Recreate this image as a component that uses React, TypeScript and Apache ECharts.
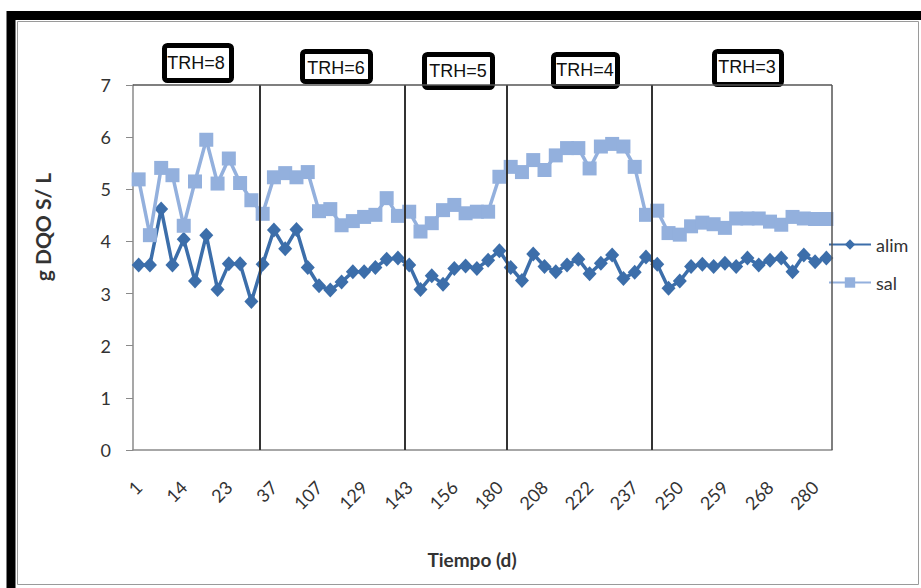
import React, { useEffect, useRef } from "react";
import * as echarts from "echarts";

// Sampling day for each point (only every 4th is labelled on the axis)
const days = [
  1, 4, 7, 10, 14, 16, 18, 21, 23, 25, 30, 35, 37, 99, 101, 104, 107, 112, 119, 124,
  129, 133, 136, 140, 143, 146, 149, 152, 156, 163, 170, 175, 180, 194, 198, 203,
  208, 212, 215, 219, 222, 226, 229, 233, 237, 240, 243, 247, 250, 252, 254, 257,
  259, 261, 264, 266, 268, 271, 273, 276, 280, 282,
];

// Soluble COD of the feed (alim), g/L
const alim = [
  3.55, 3.55, 4.62, 3.55, 4.04, 3.24, 4.12, 3.08, 3.57, 3.57, 2.85, 3.56, 4.22, 3.86,
  4.23, 3.5, 3.15, 3.07, 3.22, 3.42, 3.42, 3.5, 3.66, 3.68, 3.55, 3.08, 3.34, 3.18,
  3.48, 3.53, 3.48, 3.64, 3.82, 3.5, 3.25, 3.76, 3.52, 3.42, 3.55, 3.66, 3.38, 3.58,
  3.74, 3.29, 3.41, 3.7, 3.56, 3.1, 3.24, 3.52, 3.56, 3.52, 3.58, 3.52, 3.68, 3.55,
  3.64, 3.68, 3.42, 3.74, 3.61, 3.68,
];

// Soluble COD of the effluent (sal), g/L
const sal = [
  5.19, 4.12, 5.41, 5.27, 4.3, 5.15, 5.95, 5.11, 5.59, 5.12, 4.79, 4.53, 5.23, 5.31,
  5.23, 5.33, 4.58, 4.62, 4.31, 4.39, 4.47, 4.51, 4.83, 4.49, 4.57, 4.19, 4.35, 4.6,
  4.7, 4.54, 4.57, 4.57, 5.24, 5.43, 5.33, 5.56, 5.37, 5.65, 5.79, 5.79, 5.4, 5.82,
  5.87, 5.82, 5.43, 4.51, 4.59, 4.16, 4.13, 4.29, 4.36, 4.33, 4.26, 4.44, 4.44, 4.44,
  4.38, 4.32, 4.47, 4.44, 4.43, 4.43,
];

// Period boundaries in category units (0 = left edge, 62 = right edge)
const periodBreaks = [11.22, 24.13, 33.14, 46.05];
const periodLabels = ["TRH=8", "TRH=6", "TRH=5", "TRH=4", "TRH=3"];

const FONT = "Lato, 'Open Sans', sans-serif";

export default function App() {
  const ref = useRef<HTMLDivElement>(null);

  useEffect(() => {
    document.body.style.margin = "0";
    if (!ref.current) return;
    const chart = echarts.init(ref.current, null, { renderer: "svg" });

    // label boxes above each period: [left, top, width, height, text cx, text cy]
    const boxGeom = [
      [164.5, 45.5, 67, 35, 196, 63],
      [302.5, 51.5, 68, 30, 336, 68],
      [424.5, 54.5, 68, 33, 458, 71],
      [553.5, 54.5, 64, 32, 585, 70],
      [714.5, 51.5, 67, 33, 747, 67],
    ];

    const boxes = periodLabels.map((t, i) => {
      const [x, y, w, h, cx, cy] = boxGeom[i];
      return {
        type: "group",
        z: 100,
        children: [
          {
            type: "rect",
            shape: { x, y, width: w, height: h, r: 3 },
            style: { fill: "#fff", stroke: "#000", lineWidth: 5 },
          },
          {
            type: "text",
            x: cx,
            y: cy,
            style: {
              text: t,
              fill: "#111",
              font: "18px 'Liberation Sans', Arial, sans-serif",
              align: "center",
              verticalAlign: "middle",
            },
          },
        ],
      };
    });

    chart.setOption({
      animation: false,
      backgroundColor: "#fff",
      textStyle: { fontFamily: FONT },
      grid: {
        left: 133,
        top: 85,
        width: 699,
        height: 365,
        containLabel: false,
        outerBoundsMode: "none",
      },
      legend: {
        data: ["alim", "sal"],
        orient: "vertical",
        left: 828,
        top: 235.5,
        padding: 0,
        itemWidth: 42,
        itemHeight: 13,
        itemGap: 20,
        textStyle: { fontSize: 18, color: "#333", fontFamily: FONT },
      },
      xAxis: [
        {
          type: "category",
          data: days.map(String),
          boundaryGap: true,
          axisLine: { lineStyle: { color: "#8a8a8a", width: 1.5 } },
          axisTick: {
            interval: 0,
            length: 7,
            lineStyle: { color: "#8a8a8a", width: 1 },
          },
          axisLabel: {
            interval: 3,
            rotate: 45,
            margin: 34,
            fontSize: 18,
            color: "#333",
            fontFamily: FONT,
          },
          splitLine: { show: false },
        },
        { type: "value", min: 0, max: 62, show: false },
      ],
      yAxis: {
        type: "value",
        min: 0,
        max: 7,
        interval: 1,
        axisLine: { show: true, lineStyle: { color: "#8a8a8a", width: 1.5 } },
        axisTick: { show: true, length: 7, lineStyle: { color: "#8a8a8a" } },
        splitLine: { show: false },
        axisLabel: { margin: 22, fontSize: 18, color: "#333", fontFamily: FONT },
      },
      series: [
        {
          name: "",
          type: "line",
          xAxisIndex: 1,
          data: [[31, 0]],
          symbol: "none",
          lineStyle: { opacity: 0 },
          silent: true,
          markLine: {
            silent: true,
            symbol: "none",
            label: { show: false },
            lineStyle: { color: "#333", width: 2, type: "solid" },
            data: [
              ...periodBreaks.map((v) => ({ xAxis: v })),
              { xAxis: 62, lineStyle: { color: "#555", width: 1.5, type: "solid" } },
              { yAxis: 7, lineStyle: { color: "#555", width: 1.5, type: "solid" } },
            ],
          },
        },
        {
          name: "alim",
          type: "line",
          data: alim,
          symbol: "diamond",
          symbolSize: [14, 15],
          showAllSymbol: true,
          color: "#3C6EAA",
          lineStyle: { width: 3.5, color: "#3C6EAA" },
          itemStyle: { color: "#3C6EAA" },
          z: 3,
        },
        {
          name: "sal",
          type: "line",
          data: sal,
          symbol: "rect",
          symbolSize: 14,
          showAllSymbol: true,
          color: "#93B0DD",
          lineStyle: { width: 3.5, color: "#93B0DD" },
          itemStyle: { color: "#93B0DD" },
          z: 4,
        },
      ],
      graphic: [
        {
          type: "rect",
          z: 90,
          shape: { x: 11, y: 15.5, width: 1000, height: 1000 },
          style: { fill: "none", stroke: "#000", lineWidth: 9 },
        },
        {
          type: "rect",
          z: 90,
          shape: { x: 17.5, y: 21.5, width: 901, height: 563 },
          style: { fill: "none", stroke: "#9a9a9a", lineWidth: 1 },
        },
        {
          type: "text",
          z: 90,
          x: 42,
          y: 227,
          rotation: Math.PI / 2,
          style: {
            text: "g DQO S/ L",
            fill: "#333",
            font: `bold 21px ${FONT}`,
            align: "center",
            verticalAlign: "middle",
          },
        },
        {
          type: "text",
          z: 90,
          x: 472,
          y: 559,
          style: {
            text: "Tiempo (d)",
            fill: "#333",
            font: `bold 19px ${FONT}`,
            align: "center",
            verticalAlign: "middle",
          },
        },
        ...boxes,
      ],
    });

    return () => chart.dispose();
  }, []);

  return <div ref={ref} style={{ width: 921, height: 588 }} />;
}
